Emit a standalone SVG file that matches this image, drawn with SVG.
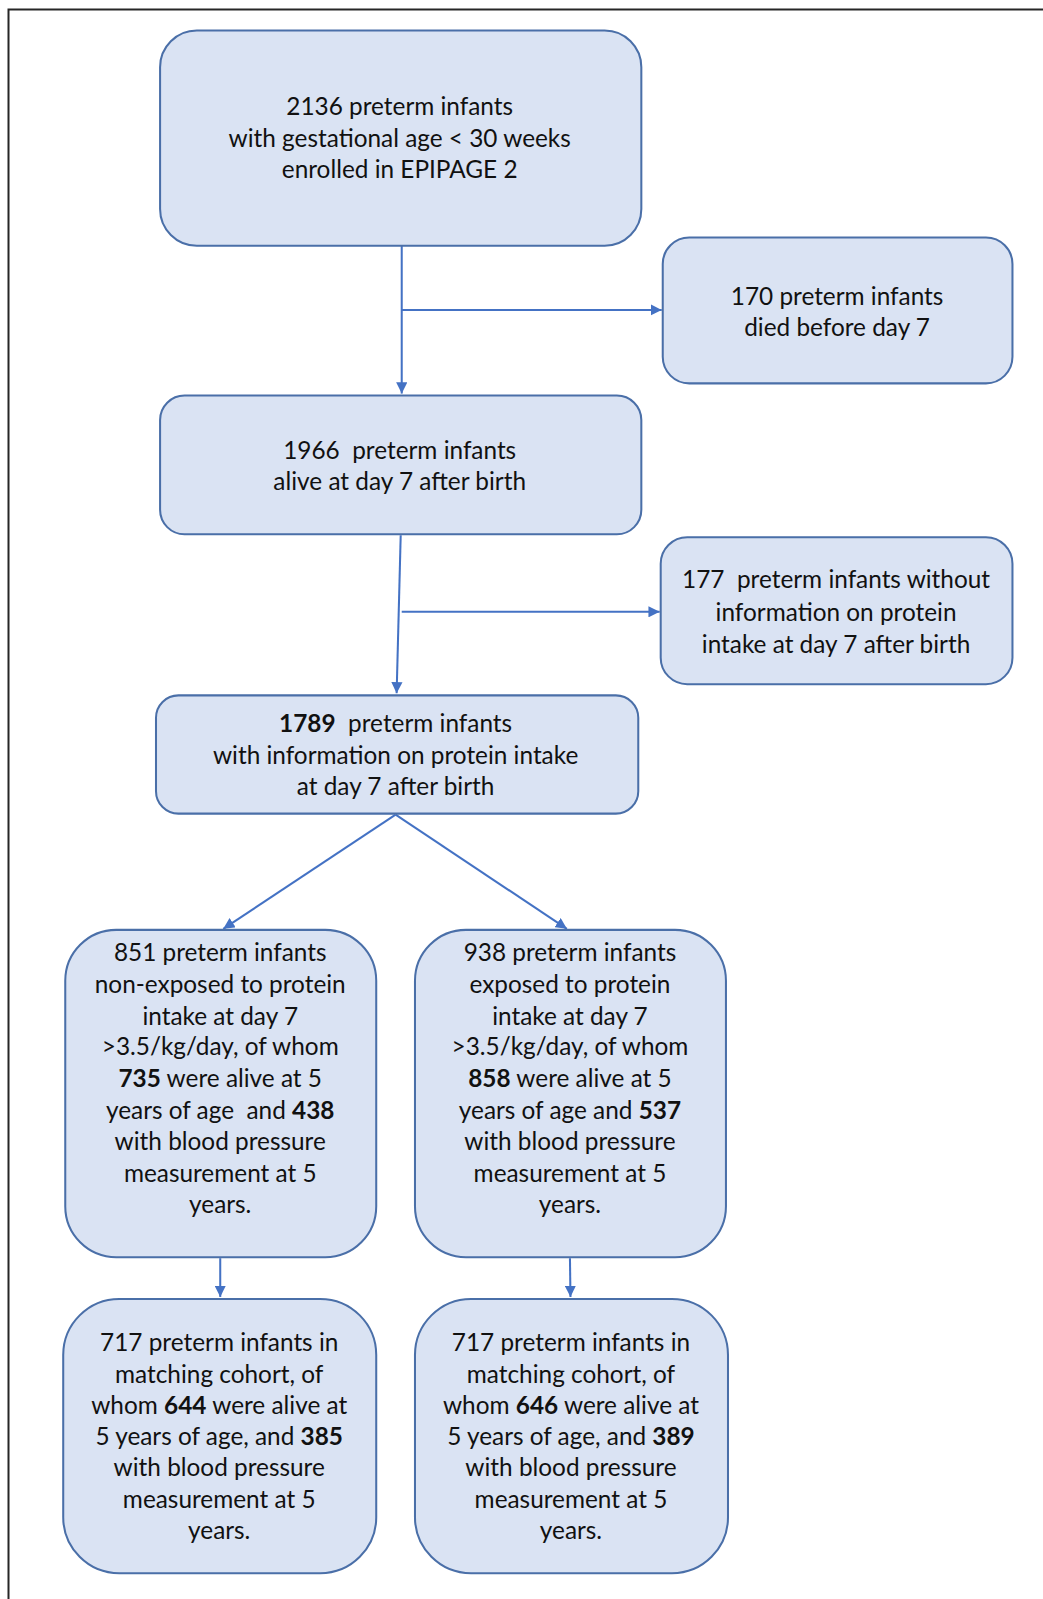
<svg xmlns="http://www.w3.org/2000/svg" width="1043" height="1599" viewBox="0 0 1043 1599">
<defs>
<style>
.box{fill:#DAE3F3;stroke:#4A6FA8;stroke-width:2}
.t{font-family:Lato,"Liberation Sans",sans-serif;font-size:23.9px;fill:#111111;text-anchor:middle}
.b{font-weight:bold}
.c{stroke:#4472C4;stroke-width:2;fill:none}
</style>
<marker id="ah" viewBox="0 0 10 10" refX="10" refY="5" markerWidth="11" markerHeight="11" markerUnits="userSpaceOnUse" orient="auto">
<path d="M0,0 L10,5 L0,10 z" fill="#4472C4"/>
</marker>
</defs>
<rect width="1043" height="1599" fill="#ffffff"/>
<path d="M8.5,1599 V9.5 H1043" fill="none" stroke="#262626" stroke-width="2"/>
<g transform="scale(1.0196)">
<g id="connectors">
<path class="c" d="M394,241 V386" marker-end="url(#ah)"/>
<path class="c" d="M394,304 H649" marker-end="url(#ah)"/>
<path class="c" d="M393,525 L389,680" marker-end="url(#ah)"/>
<path class="c" d="M394,600 H647" marker-end="url(#ah)"/>
<path class="c" d="M388,799 L219,911" marker-end="url(#ah)"/>
<path class="c" d="M388,799 L556,911" marker-end="url(#ah)"/>
<path class="c" d="M216,1234 V1272" marker-end="url(#ah)"/>
<path class="c" d="M559,1234 L559.5,1272" marker-end="url(#ah)"/>
</g>
<g id="n1">
<rect class="box" x="157" y="30" width="472" height="211" rx="36"/>
<text class="t" x="392" y="113">2136 preterm infants</text>
<text class="t" x="392" y="144">with gestational age &lt; 30 weeks</text>
<text class="t" x="392" y="175">enrolled in EPIPAGE 2</text>
</g>
<g id="n2">
<rect class="box" x="650" y="233" width="343" height="143" rx="26"/>
<text class="t" x="821" y="299">170 preterm infants</text>
<text class="t" x="821" y="330">died before day 7</text>
</g>
<g id="n3">
<rect class="box" x="157" y="388" width="472" height="136" rx="24"/>
<text class="t" x="392" y="450" xml:space="preserve">1966  preterm infants</text>
<text class="t" x="392" y="481">alive at day 7 after birth</text>
</g>
<g id="n4">
<rect class="box" x="648" y="527" width="345" height="144" rx="26"/>
<text class="t" x="820" y="577" xml:space="preserve">177  preterm infants without</text>
<text class="t" x="820" y="609">information on protein</text>
<text class="t" x="820" y="640">intake at day 7 after birth</text>
</g>
<g id="n5">
<rect class="box" x="153" y="682" width="473" height="116" rx="22"/>
<text class="t" x="388" y="718" xml:space="preserve"><tspan class="b">1789</tspan>  preterm infants</text>
<text class="t" x="388" y="749">with information on protein intake</text>
<text class="t" x="388" y="780">at day 7 after birth</text>
</g>
<g id="n6">
<rect class="box" x="64" y="912" width="305" height="321" rx="50"/>
<text class="t" x="216" y="943">851 preterm infants</text>
<text class="t" x="216" y="974">non-exposed to protein</text>
<text class="t" x="216" y="1005">intake at day 7</text>
<text class="t" x="216" y="1035">&gt;3.5/kg/day, of whom</text>
<text class="t" x="216" y="1066"><tspan class="b">735</tspan> were alive at 5</text>
<text class="t" x="216" y="1097" xml:space="preserve">years of age  and <tspan class="b">438</tspan></text>
<text class="t" x="216" y="1128">with blood pressure</text>
<text class="t" x="216" y="1159">measurement at 5</text>
<text class="t" x="216" y="1190">years.</text>
</g>
<g id="n7">
<rect class="box" x="407" y="912" width="305" height="321" rx="50"/>
<text class="t" x="559" y="943">938 preterm infants</text>
<text class="t" x="559" y="974">exposed to protein</text>
<text class="t" x="559" y="1005">intake at day 7</text>
<text class="t" x="559" y="1035">&gt;3.5/kg/day, of whom</text>
<text class="t" x="559" y="1066"><tspan class="b">858</tspan> were alive at 5</text>
<text class="t" x="559" y="1097">years of age and <tspan class="b">537</tspan></text>
<text class="t" x="559" y="1128">with blood pressure</text>
<text class="t" x="559" y="1159">measurement at 5</text>
<text class="t" x="559" y="1190">years.</text>
</g>
<g id="n8">
<rect class="box" x="62" y="1274" width="307" height="269" rx="55"/>
<text class="t" x="215" y="1325">717 preterm infants in</text>
<text class="t" x="215" y="1356">matching cohort, of</text>
<text class="t" x="215" y="1387">whom <tspan class="b">644</tspan> were alive at</text>
<text class="t" x="215" y="1417">5 years of age, and <tspan class="b">385</tspan></text>
<text class="t" x="215" y="1448">with blood pressure</text>
<text class="t" x="215" y="1479">measurement at 5</text>
<text class="t" x="215" y="1509">years.</text>
</g>
<g id="n9">
<rect class="box" x="407" y="1274" width="307" height="269" rx="55"/>
<text class="t" x="560" y="1325">717 preterm infants in</text>
<text class="t" x="560" y="1356">matching cohort, of</text>
<text class="t" x="560" y="1387">whom <tspan class="b">646</tspan> were alive at</text>
<text class="t" x="560" y="1417">5 years of age, and <tspan class="b">389</tspan></text>
<text class="t" x="560" y="1448">with blood pressure</text>
<text class="t" x="560" y="1479">measurement at 5</text>
<text class="t" x="560" y="1509">years.</text>
</g>
</g>
</svg>
